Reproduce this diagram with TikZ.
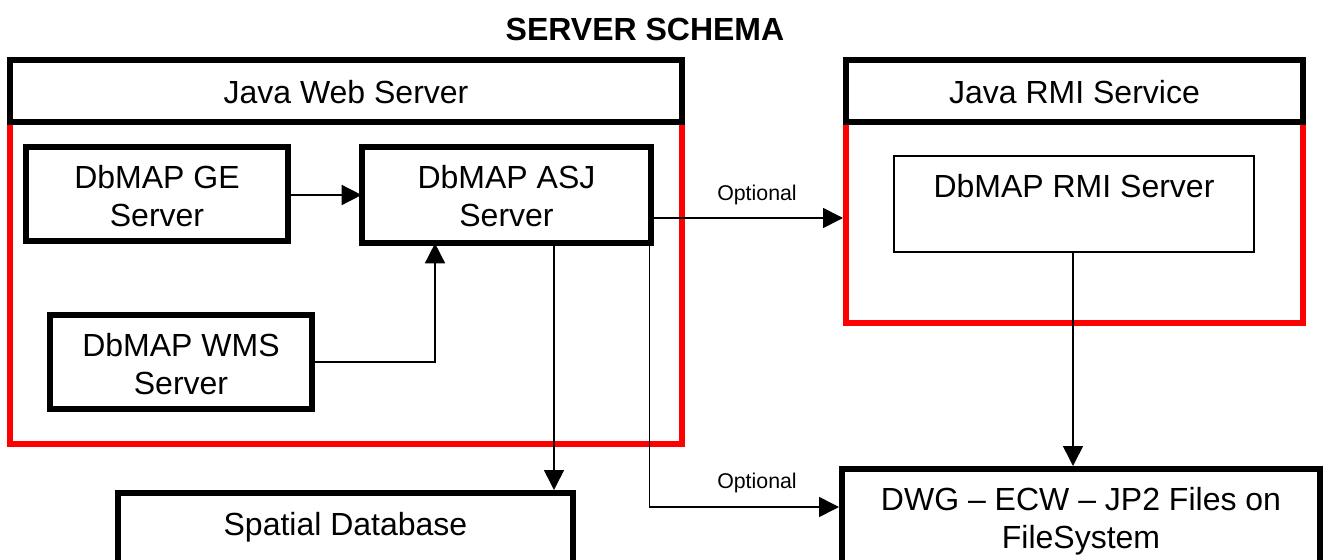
\documentclass[tikz,border=0pt]{standalone}
\usepackage{fontspec}
\setmainfont{Liberation Sans}
\usetikzlibrary{arrows.meta}
\newcommand\nudgedown[1]{\rule{0pt}{\dimexpr 17.5pt+#1\relax}}
\tikzset{
  pxsize/.style 2 args={minimum width=#1*0.75pt,minimum height=#2*0.75pt},
  labeltext/.style={inner sep=0pt,align=center,font=\fontsize{24}{28.5}\selectfont},
  box/.style={draw=black,line width=4.5pt,fill=white,labeltext},
  thinbox/.style={draw=black,line width=1.1pt,fill=white,labeltext},
  frame/.style={draw=red,line width=4.5pt,fill=white,inner sep=0pt},
  conn/.style={draw=black,line width=1.2pt,-{Triangle[length=15pt,width=15pt]}},
  connin/.style={conn,shorten >=-2pt},
  opt/.style={inner sep=0pt,font=\fontsize{16}{19}\selectfont},
  heading/.style={inner sep=0pt,font=\fontsize{24}{28}\selectfont\bfseries}
}
\begin{document}
\begin{tikzpicture}[x=0.75pt,y=-0.75pt]
\useasboundingbox (0,0) rectangle (1325,560);
\clip (0,0) rectangle (1325,560);
\node[heading] (title) at (645,29) {SERVER SCHEMA};
\node[frame,pxsize={672}{384}] (webframe) at (346,252) {};
\node[box,pxsize={672}{62}] (webtitle) at (346,91) {\nudgedown{1.5pt}Java Web Server};
\node[frame,pxsize={457}{263}] (rmiframe) at (1074.5,191.5) {};
\node[box,pxsize={457}{62}] (rmititle) at (1074.5,91) {\nudgedown{1.5pt}Java RMI Service};
\node[box,pxsize={262}{94}] (ge) at (157,194) {\nudgedown{3pt}DbMAP GE\\Server};
\node[box,pxsize={289}{96}] (asj) at (506.5,195) {\nudgedown{1.5pt}DbMAP ASJ\\Server};
\node[box,pxsize={262}{94}] (wms) at (181,362) {\nudgedown{3pt}DbMAP WMS\\Server};
\node[thinbox,pxsize={360}{96}] (rmisrv) at (1074,204) {\nudgedown{1.5pt}DbMAP RMI Server\\~};
\node[box,pxsize={455}{100}] (spatial) at (345.5,543) {Spatial Database\\~};
\node[box,pxsize={478}{104}] (dwg) at (1081,521) {DWG – ECW – JP2 Files on\\FileSystem};
\node[opt] (opt1) at (757,195) {Optional};
\node[opt] (opt2) at (757,483) {Optional};
\coordinate (geout) at ([shift={(0,1)}]ge.east);
\coordinate (asjout) at ([shift={(0,23)}]asj.east);
\coordinate (asjdown) at ([shift={(-4.5,0)}]asj.south east);
\coordinate (asjdb) at (554,0);
\coordinate (dwgin) at (0,507);
\coordinate (wmsup) at (435,0);
\draw[connin] (geout) -- (asj.west |- geout);
\draw[connin] (wms.east) -| (wmsup |- asj.south);
\draw[conn] (asjout) -- (rmiframe.west |- asjout);
\draw[conn] (asjdb |- asj.south) -- (asjdb |- spatial.north);
\draw[conn] (asjdown) |- (dwg.west |- dwgin);
\draw[conn] (rmisrv.south -| 1073,0) -- (dwg.north -| 1073,0);
\end{tikzpicture}
\end{document}
